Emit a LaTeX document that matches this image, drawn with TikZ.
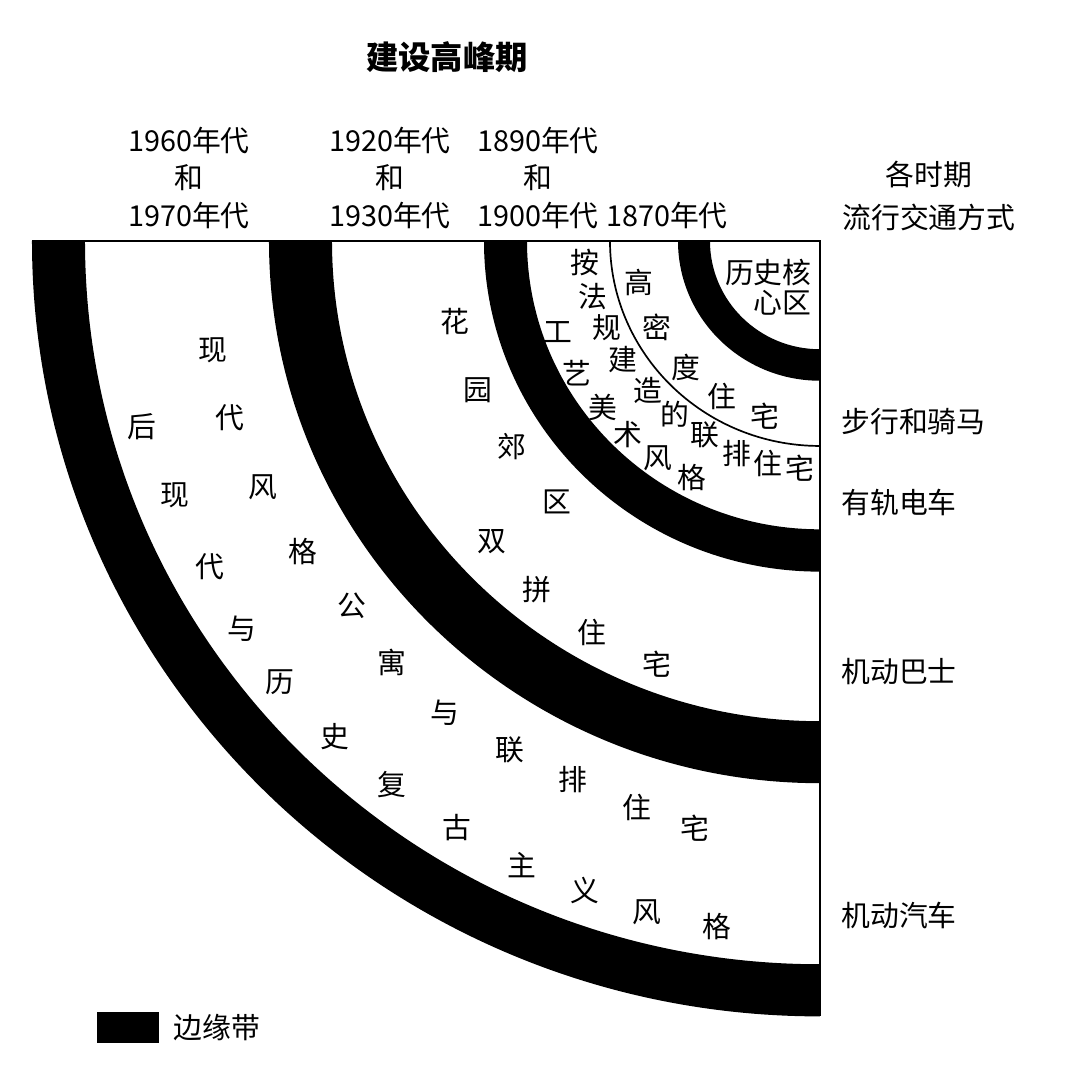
\documentclass[tikz,border=0pt]{standalone}
\usepackage{fontspec}
\setmainfont{Noto Sans CJK SC}
\usetikzlibrary{positioning}
\tikzset{
every picture/.style={
line width=2pt
}}
\tikzset{
pics/band/.style 2 args={code={
  \fill (-#2,0) arc[start angle=180, end angle=270, x radius=#2, y radius=0.984*#2]
     -- (0,-0.984*#1) arc[start angle=270, end angle=180, x radius=#1, y radius=0.984*#1] -- cycle;
  }}}
\begin{document}
\begin{tikzpicture}[x=0.025cm, y=0.025cm,
lbl/.style = {font=\fontsize{20.5}{27}\selectfont, inner sep=0pt},
hdr/.style = {lbl, align=center}]
\useasboundingbox (-820,-840) rectangle (260,241);

% the edge belts
\path (0,0) pic {band={110}{142}};
\path (0,0) pic {band={293}{336}};
\path (0,0) pic {band={488}{551}};
\path (0,0) pic {band={735}{788}};
\draw[line width=1.2pt] (-210,0) arc[start angle=180, end angle=270, x radius=210, y radius=0.976*210];
\draw (-788,0) -- (0,0) -- (0,-775);

% headings
\node [lbl, font=\fontsize{23}{27}\selectfont\bfseries] (title) at (-373,184) {建设高峰期};
\node [hdr] (h1960) at (-631,63) {1960年代\\和\\1970年代};
\node [hdr] (h1920) at (-430,63) {1920年代\\和\\1930年代};
\node [hdr] (h1890) at (-282,63) {1890年代\\和\\1900年代};
\node [lbl] (h1870) at (-153,25) {1870年代};
\node [hdr, font=\fontsize{20.5}{30}\selectfont] (modes) at (109,45) {各时期\\流行交通方式};

\node [lbl, anchor=west] (walk) at (20,-181) {步行和骑马};
\node [lbl, anchor=west] (tram) at (20,-262) {有轨电车};
\node [lbl, anchor=west] (bus) at (20,-431) {机动巴士};
\node [lbl, anchor=west] (car) at (20,-674) {机动汽车};

% zones
\node [lbl, align=right, anchor=east, font=\fontsize{20.5}{21.5}\selectfont] (core) at (-7,-46) {历史核\\心区};
\foreach \t/\x/\y [count=\i] in {高/-181/-41, 密/-163/-86, 度/-134/-126, 住/-98/-155, 宅/-55/-175}
  \node [lbl] (hd\i) at (\x,\y) {\t};
\foreach \t/\x/\y [count=\i] in {按/-235/-21, 法/-227/-56, 规/-213/-87, 建/-197/-119, 造/-172/-149,
    的/-145/-173, 联/-115/-194, 排/-83/-213, 住/-52/-222, 宅/-20/-227}
  \node [lbl] (row\i) at (\x,\y) {\t};
\foreach \t/\x/\y [count=\i] in {工/-262/-91, 艺/-243/-132, 美/-217/-166, 术/-192/-194, 风/-162/-217, 格/-128/-237}
  \node [lbl] (art\i) at (\x,\y) {\t};
\foreach \t/\x/\y [count=\i] in {花/-365/-81, 园/-342/-149, 郊/-308/-206, 区/-263/-261, 双/-328/-301,
    拼/-283/-349, 住/-228/-391, 宅/-163/-423}
  \node [lbl] (sub\i) at (\x,\y) {\t};
\foreach \t/\x/\y [count=\i] in {现/-607/-109, 代/-590/-177, 风/-557/-246, 格/-517/-311, 公/-468/-365,
    寓/-428/-421, 与/-375/-472, 联/-310/-509, 排/-247/-539, 住/-183/-566, 宅/-125/-587}
  \node [lbl] (mod\i) at (\x,\y) {\t};
\foreach \t/\x/\y [count=\i] in {后/-678/-186, 现/-645/-254, 代/-610/-326, 与/-578/-388, 历/-540/-441,
    史/-485/-496, 复/-428/-544, 古/-363/-587, 主/-298/-624, 义/-235/-649, 风/-173/-671, 格/-103/-686}
  \node [lbl] (post\i) at (\x,\y) {\t};

% legend
\fill (-723,-771) rectangle (-661,-802) coordinate (keyse);
\node [lbl, anchor=west] (key) at (-648,-787) {边缘带};

\end{tikzpicture}
\end{document}
